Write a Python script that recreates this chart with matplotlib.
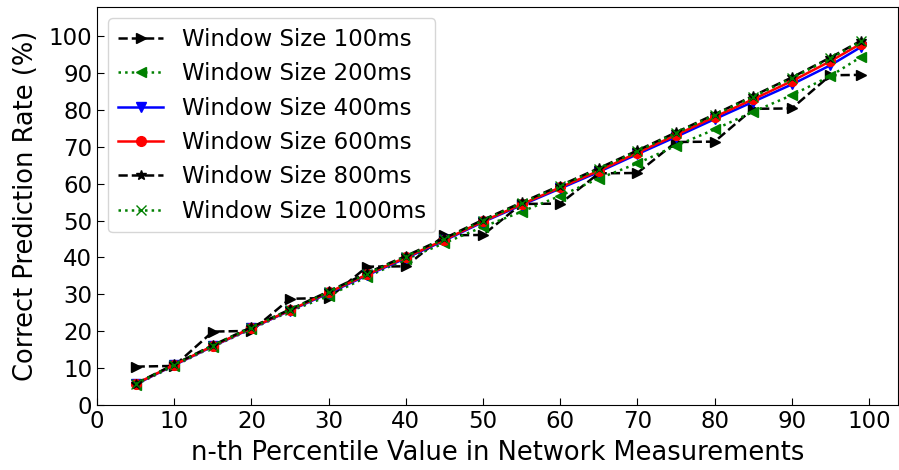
import numpy as np
import matplotlib
matplotlib.use("Agg")
import matplotlib.pyplot as plt

# percentile values used as x positions
percentiles = [5, 10, 15, 20, 25, 30, 35, 40, 45, 50,
               55, 60, 65, 70, 75, 80, 85, 90, 95, 99]

# correct prediction rate (%) for each window size
rate_100ms = [10.4, 10.6, 19.9, 20.1, 28.8, 29.0, 37.5, 37.6, 46.0, 46.1,
              54.5, 54.6, 62.8, 62.9, 71.3, 71.4, 80.3, 80.4, 89.4, 89.5]
rate_200ms = [5.5, 10.6, 15.8, 20.6, 25.4, 29.6, 34.8, 39.5, 43.9, 48.3,
              52.4, 56.7, 61.4, 65.5, 70.3, 74.7, 79.5, 84.0, 89.2, 94.4]
rate_400ms = [5.6, 10.8, 15.9, 20.8, 25.6, 30.3, 35.2, 39.8, 44.6, 49.6,
              54.2, 58.7, 63.2, 68.0, 72.7, 77.5, 82.2, 86.9, 92.1, 97.1]
rate_600ms = [5.7, 10.9, 16.0, 20.9, 25.7, 30.5, 35.4, 40.0, 44.8, 49.8,
              54.4, 59.0, 63.5, 68.4, 73.2, 78.1, 82.9, 87.8, 93.2, 98.0]
rate_800ms = [5.8, 11.0, 16.2, 21.1, 25.9, 30.8, 35.8, 40.4, 45.2, 50.2,
              54.9, 59.5, 64.2, 69.0, 73.9, 78.8, 83.8, 88.8, 94.2, 98.8]
rate_1000ms = [5.7, 10.9, 16.1, 21.0, 25.8, 30.6, 35.6, 40.2, 45.0, 50.0,
               54.7, 59.3, 64.0, 68.8, 73.7, 78.6, 83.6, 88.6, 94.0, 98.6]

x_ticks = [0, 10, 20, 30, 40, 50, 60, 70, 80, 90, 100]
y_ticks = [0, 10, 20, 30, 40, 50, 60, 70, 80, 90, 100]

series = [
    (rate_100ms, "k--", ">", "Window Size 100ms"),
    (rate_200ms, "g:", "<", "Window Size 200ms"),
    (rate_400ms, "b-", "v", "Window Size 400ms"),
    (rate_600ms, "r-", "o", "Window Size 600ms"),
    (rate_800ms, "k--", "*", "Window Size 800ms"),
    (rate_1000ms, "g:", "x", "Window Size 1000ms"),
]

fig = plt.figure(figsize=(8.99, 4.70), dpi=100)
ax = fig.add_axes([0.1079, 0.1383, 0.8905, 0.8468])

for values, fmt, marker, label in series:
    ax.plot(percentiles, values, fmt, marker=marker, markersize=7,
            linewidth=1.8, label=label)

ax.set_xlim(0, 103.7)
ax.set_ylim(0, 107.9)
ax.set_xticks(x_ticks)
ax.set_yticks(y_ticks)
ax.tick_params(direction="in", labelsize=16.5, length=5)
ax.set_xlabel("n-th Percentile Value in Network Measurements", fontsize=18.5,
              labelpad=5)
ax.set_ylabel("Correct Prediction Rate (%)", fontsize=18.5, labelpad=7)
ax.legend(loc="upper left", fontsize=16.5, numpoints=1)

fig.savefig("out.png", dpi=100)
